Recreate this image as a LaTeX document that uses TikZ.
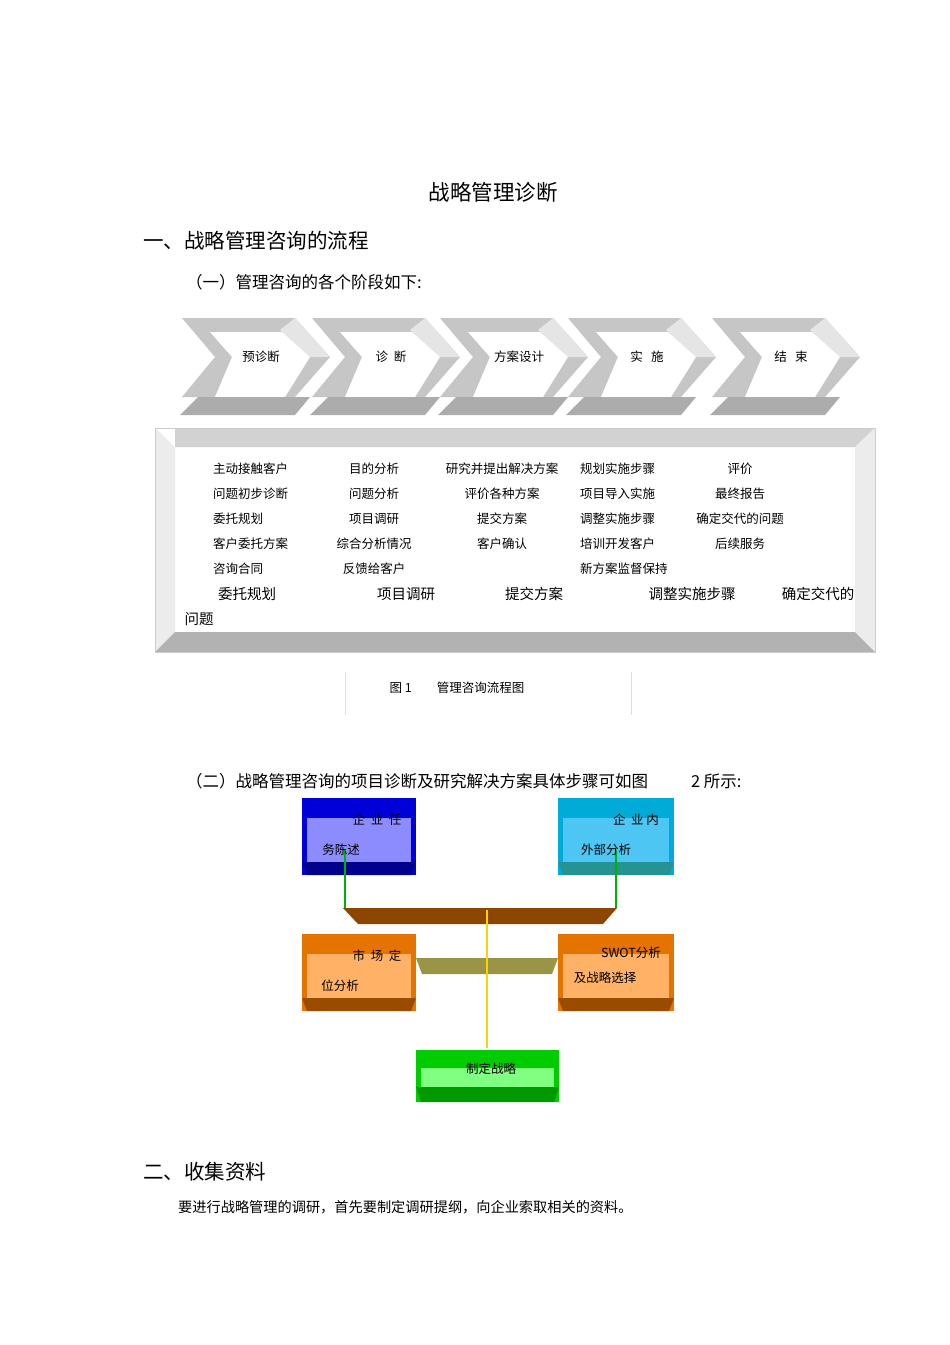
\documentclass[tikz,border=0pt]{standalone}
\usepackage{fontspec}
\setmainfont{Noto Sans CJK SC}
\begin{document}
\begin{tikzpicture}[x=1pt,y=-1pt,
 t/.style={font=\fontsize{12.5}{13}\selectfont,inner sep=0},
 tb/.style={font=\fontsize{14.5}{15}\selectfont,inner sep=0},
 h/.style={font=\fontsize{20.5}{21}\selectfont,inner sep=0,anchor=west},
 b/.style={font=\fontsize{16.5}{17}\selectfont,inner sep=0,anchor=west}]
\useasboundingbox[fill=white] (0,0) rectangle (950,1345);
\node[font=\fontsize{21.5}{22}\selectfont,inner sep=0] (title) at (493,192) {战略管理诊断};
\node[h] (h1) at (143,241) {一、战略管理咨询的流程};
\node[b] (s1) at (186,282) {（一）管理咨询的各个阶段如下:};
% chevrons
\foreach \dx/\lab/\n in {0/预诊断/c1,130/诊\ \ 断/c2,258/方案设计/c3,386/实\ \ \ 施/c4,530/结\ \ \ 束/c5}{
 \begin{scope}[xshift=\dx]
 \fill[gray!45] (182,318) -- (295,318) -- (330,357) -- (295,397) -- (182,397) -- (215,357) -- cycle;
 \fill[gray!20] (295,318) -- (330,357) -- (310,357) -- (280,330) -- cycle;
 \fill[white] (210,332) -- (282,332) -- (310,357) -- (285,397) -- (215,397) -- (232,357) -- cycle;
 \fill[gray!65] (198,397) -- (310,397) -- (295,415) -- (180,415) -- cycle;
 \node[t] (\n) at (261,357) {\lab};
 \end{scope}}
% big box
\fill[gray!35] (175,428) -- (875,428) -- (855,447) -- (175,447) -- cycle;
\fill[gray!15] (155,428) -- (175,447) -- (175,632) -- (155,652) -- cycle;
\fill[gray!15] (875,428) -- (875,652) -- (855,632) -- (855,447) -- cycle;
\fill[gray!60] (155,652) -- (175,632) -- (855,632) -- (875,652) -- cycle;
\draw[gray!40] (155,428) rectangle (875,652);
\foreach \y/\a/\bb/\c/\d/\e [count=\i] in {
 469/主动接触客户/目的分析/研究并提出解决方案/规划实施步骤/评价,
 494/问题初步诊断/问题分析/评价各种方案/项目导入实施/最终报告,
 519/委托规划/项目调研/提交方案/调整实施步骤/确定交代的问题,
 544/客户委托方案/综合分析情况/客户确认/培训开发客户/后续服务}{
 \node[t,anchor=west] (r\i a) at (213,\y) {\a};
 \node[t] (r\i b) at (374,\y) {\bb};
 \node[t] (r\i c) at (502,\y) {\c};
 \node[t,anchor=west] (r\i d) at (580,\y) {\d};
 \node[t] (r\i e) at (740,\y) {\e};}
\node[t,anchor=west] (r5a) at (213,569) {咨询合同};
\node[t] (r5b) at (374,569) {反馈给客户};
\node[t,anchor=west] (r5d) at (580,569) {新方案监督保持};
\node[tb] (l1) at (247,594) {委托规划};
\node[tb] (l2) at (406,594) {项目调研};
\node[tb] (l3) at (534,594) {提交方案};
\node[tb] (l4) at (692,594) {调整实施步骤};
\node[tb] (l5) at (818,594) {确定交代的};
\node[tb] (l6) at (199,619) {问题};
% caption
\draw[gray!25] (345,672) -- (345,715) (631,672) -- (631,715);
\node[t] (cap) at (457,688) {图 1\hspace{2em}管理咨询流程图};
\node[b] (s2) at (186,781) {（二）战略管理咨询的项目诊断及研究解决方案具体步骤可如图\hspace{2.6em}2 所示:};
% diagram 2
\newcommand{\boxthree}[7]{% x1 y1 x2 y2 top mid bottom
 \fill[#5] (#1,#2) rectangle (#3,#4);
 \fill[#6] (#1+5,#2+20) rectangle (#3-5,#4-13);
 \fill[#7] (#1,#4-13) -- (#3,#4-13) -- (#3-5,#4) -- (#1+5,#4) -- cycle;}
\boxthree{302}{798}{416}{875}{blue!85!black}{blue!45!white}{blue!55!black}
\boxthree{558}{798}{674}{875}{cyan!85!green}{cyan!70!white}{teal!85}
\boxthree{302}{934}{416}{1011}{orange!90!black}{orange!60!white}{orange!60!black}
\boxthree{558}{934}{674}{1011}{orange!90!black}{orange!60!white}{orange!60!black}
\fill[green!80!black] (416,1050) rectangle (559,1102);
\fill[green!50] (421,1068) rectangle (554,1087);
\fill[green!60!black] (416,1087) -- (559,1087) -- (554,1102) -- (421,1102) -- cycle;
\fill[orange!55!black] (343,908) -- (617,908) -- (603,924) -- (358,924) -- cycle;
\fill[yellow!55!black] (416,958) -- (558,958) -- (552,974) -- (422,974) -- cycle;
\coordinate (g1) at (345,850); \coordinate (g1b) at (345,908);
\coordinate (g2) at (616,850); \coordinate (g2b) at (616,908);
\coordinate (v1) at (487,910); \coordinate (v2) at (487,1048);
\draw[green!70!black,line width=1.5] (g1) -- (g1b);
\draw[green!70!black,line width=1.5] (g2) -- (g2b);
\draw[yellow!70!orange,line width=1.2] (v1) -- (v2);
\node[t] (bx1) at (377,820) {企\ \ 业\ \ 任};
\node[t] (bx1b) at (341,850) {务陈述};
\node[t] (bx2) at (636,820) {企\ \ 业\ 内};
\node[t] (bx2b) at (606,850) {外部分析};
\node[t] (bx3) at (377,956) {市\ \ 场\ \ 定};
\node[t] (bx3b) at (340,986) {位分析};
\node[t] (bx4) at (631,953) {SWOT分析};
\node[t] (bx4b) at (605,978) {及战略选择};
\node[t] (bx5) at (491,1069) {制定战略};
\node[h] (h2) at (143,1172) {二、收集资料};
\node[b,font=\fontsize{14.2}{15}\selectfont] (p) at (178,1207) {要进行战略管理的调研，首先要制定调研提纲，向企业索取相关的资料。};
\end{tikzpicture}
\end{document}
